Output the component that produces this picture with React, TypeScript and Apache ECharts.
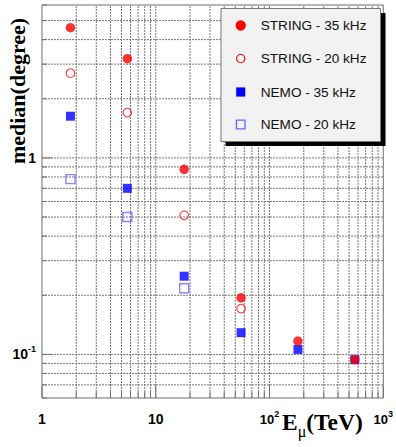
import React, { useEffect, useRef } from "react";
import * as echarts from "echarts";

// Muon energy (TeV)
const energies = [1.778, 5.623, 17.78, 56.23, 177.8, 562.3];
// median angular error (degree)
const string35 = [4.6, 3.2, 0.875, 0.194, 0.117, 0.094];
const string20 = [2.7, 1.7, 0.51, 0.171, null, null];
const nemo35 = [1.63, 0.7, 0.25, 0.129, 0.106, 0.094];
const nemo20 = [0.78, 0.5, 0.217, null, null, null];

const seriesNames = ["STRING - 35 kHz", "STRING - 20 kHz", "NEMO - 35 kHz", "NEMO - 20 kHz"];

const xMin = 1, xMax = 1000, yMin = 0.06, yMax = 6;

// grid line positions (log axes: 1..9 per decade)
const xGrid: number[] = [];
for (const d of [1, 10, 100]) for (let k = 1; k <= 9; k++) xGrid.push(k * d);
xGrid.push(1000);
const yGrid: number[] = [];
for (const d of [0.01, 0.1, 1]) for (let k = 1; k <= 9; k++) {
  const v = +(k * d).toPrecision(3);
  if (v >= yMin && v <= yMax) yGrid.push(v);
}

const pairs = (ys: (number | null)[]) =>
  energies.map((x, i) => [x, ys[i]]).filter((p) => p[1] !== null);

const isDecade = (v: number) => Math.abs(Math.log10(v) - Math.round(Math.log10(v))) < 1e-6;

const SANS = "'Liberation Sans', Arial, Helvetica, sans-serif";
const SERIF = "'Liberation Serif', 'Times New Roman', serif";

export default function App() {
  const ref = useRef<HTMLDivElement>(null);
  useEffect(() => {
    if (!ref.current) return;
    const chart = echarts.init(ref.current, null, { renderer: "svg" });
    const gridStroke = "#777";
    const dash = [2, 1];

    const labelRich = {
      b: { fontFamily: SANS, fontWeight: "bold", fontSize: 14, lineHeight: 20, verticalAlign: "middle", color: "#000" },
      p: { fontFamily: SANS, fontWeight: "bold", fontSize: 13, lineHeight: 20, verticalAlign: "middle", color: "#000" },
      s: { fontFamily: SANS, fontWeight: "bold", fontSize: 9, lineHeight: 10, verticalAlign: "top", color: "#000" },
    };
    const fmt = (v: number) => {
      if (!isDecade(v)) return "";
      const e = Math.round(Math.log10(v));
      if (e === 0) return "{b|1}";
      if (e === 1) return "{b|10}";
      if (e < 0) return "{b|10}{s|" + e + "}";
      return "{p|10}{s|" + e + "}";
    };

    const legendRowY = [25.5, 58.5, 92, 124.5];
    const legendX = 240.7;
    const markerDefs = [
      { kind: "circle", fill: "#ff0000", stroke: "#ff0000" },
      { kind: "circle", fill: "none", stroke: "#ff0000" },
      { kind: "rect", fill: "#0000ff", stroke: "#0000ff" },
      { kind: "rect", fill: "none", stroke: "#6666ff" },
    ];
    const legendChildren: any[] = [
      { type: "rect", shape: { x: 225.5, y: 13, width: 160, height: 133 }, style: { fill: "#000" }, z: 10 },
      { type: "rect", shape: { x: 221, y: 8.5, width: 159.5, height: 133 }, style: { fill: "#f2f2f2", stroke: "#777", lineWidth: 1 }, z: 11 },
    ];
    seriesNames.forEach((name, i) => {
      const m = markerDefs[i];
      const y = legendRowY[i];
      if (m.kind === "circle") {
        legendChildren.push({
          type: "circle",
          shape: { cx: legendX, cy: y, r: m.fill === "none" ? 4.2 : 4.6 },
          style: { fill: m.fill, stroke: m.stroke, lineWidth: 1.1 },
          z: 12,
        });
      } else {
        const open = m.fill === "none";
        legendChildren.push({
          type: "rect",
          shape: { x: legendX - 4.3, y: y - 4.3, width: 8.6, height: 8.6 },
          style: { fill: m.fill, stroke: m.stroke, lineWidth: open ? 1.3 : 0.5 },
          z: 12,
        });
      }
      legendChildren.push({
        type: "text",
        x: 260.7,
        y: y,
        style: { text: name, font: "13.6px " + SANS, fill: "#111", textVerticalAlign: "middle", textAlign: "left" },
        z: 12,
      });
    });

    const option: any = {
      animation: false,
      backgroundColor: "#fff",
      grid: {
        left: 42, top: 5, width: 343, height: 393,
        show: true, borderColor: "#6e6e6e", borderWidth: 1, backgroundColor: "transparent",
      },
      xAxis: {
        type: "log", logBase: 10, min: xMin, max: xMax,
        axisLine: { show: false }, axisTick: { show: false }, splitLine: { show: false },
        axisLabel: { formatter: fmt, rich: labelRich, margin: 11, showMinLabel: true, showMaxLabel: true },
      },
      yAxis: {
        type: "log", logBase: 10, min: yMin, max: yMax,
        axisLine: { show: false }, axisTick: { show: false }, splitLine: { show: false },
        axisLabel: { formatter: fmt, rich: labelRich, margin: 6 },
      },
      series: [
        {
          type: "custom", name: "xgrid", silent: true, z: 1,
          data: xGrid.map((v) => [v, yMin]),
          renderItem: (params: any, api: any) => {
            const v = api.value(0);
            const p0 = api.coord([v, yMin]);
            const p1 = api.coord([v, yMax]);
            const children: any[] = [];
            if (v > xMin && v < xMax) {
              children.push({ type: "line", shape: { x1: p0[0], y1: p0[1], x2: p1[0], y2: p1[1] }, style: { stroke: gridStroke, lineDash: dash, lineWidth: 1 } });
            }
            const len = isDecade(v) ? 12 : 6;
            children.push({ type: "line", shape: { x1: p0[0], y1: p0[1], x2: p0[0], y2: p0[1] - len }, style: { stroke: "#6e6e6e", lineWidth: 1 } });
            return { type: "group", children };
          },
        },
        {
          type: "custom", name: "ygrid", silent: true, z: 1,
          data: yGrid.map((v) => [xMin, v]),
          renderItem: (params: any, api: any) => {
            const v = api.value(1);
            const p0 = api.coord([xMin, v]);
            const p1 = api.coord([xMax, v]);
            const children: any[] = [];
            if (v > yMin && v < yMax) {
              children.push({ type: "line", shape: { x1: p0[0], y1: p0[1], x2: p1[0], y2: p1[1] }, style: { stroke: gridStroke, lineDash: dash, lineWidth: 1 } });
            }
            const len = isDecade(v) ? 10 : 5;
            children.push({ type: "line", shape: { x1: p0[0], y1: p0[1], x2: p0[0] + len, y2: p0[1] }, style: { stroke: "#6e6e6e", lineWidth: 1 } });
            return { type: "group", children };
          },
        },
        {
          type: "scatter", name: seriesNames[3], z: 3, data: pairs(nemo20),
          symbol: "rect", symbolSize: 9,
          itemStyle: { color: "rgba(0,0,0,0)", borderColor: "#6666ff", borderWidth: 1.4 },
        },
        {
          type: "scatter", name: seriesNames[1], z: 3, data: pairs(string20),
          symbol: "circle", symbolSize: 8.6,
          itemStyle: { color: "rgba(0,0,0,0)", borderColor: "#ff0000", borderWidth: 1.1 },
        },
        {
          type: "scatter", name: seriesNames[2], z: 4, data: pairs(nemo35),
          symbol: "rect", symbolSize: 9,
          itemStyle: { color: "#0000ff" },
        },
        {
          type: "scatter", name: seriesNames[0], z: 5, data: pairs(string35),
          symbol: "circle", symbolSize: 9.5,
          itemStyle: { color: "#ff0000" },
        },
      ],
      graphic: [
        { type: "group", z: 10, children: legendChildren },
        {
          type: "text", x: 17.5, y: 91, rotation: Math.PI / 2, z: 10,
          style: { text: "median(degree)", font: "bold 22px " + SERIF, fill: "#000", textAlign: "center", textVerticalAlign: "middle" },
        },
        {
          type: "text", x: 282, y: 421, z: 10,
          style: {
            text: "{e|E}{m|μ}{e|(TeV)}",
            textAlign: "left", textVerticalAlign: "middle",
            rich: {
              e: { font: "bold 23.5px " + SERIF, fill: "#000", lineHeight: 26, verticalAlign: "bottom" },
              m: { font: "16px " + SERIF, fill: "#000", lineHeight: 17, verticalAlign: "bottom", padding: [0, 0, -5, 0] },
            },
          },
        },
      ],
    };
    chart.setOption(option);
    return () => chart.dispose();
  }, []);
  return <div ref={ref} style={{ width: 396, height: 447, position: "absolute", left: 0, top: 0 }} />;
}
